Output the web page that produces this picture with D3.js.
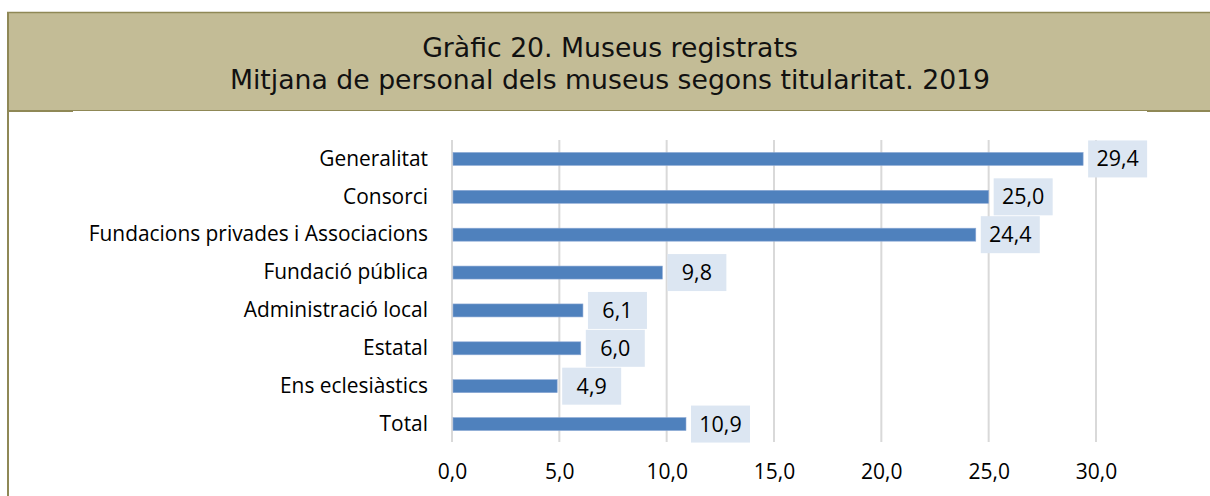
<!DOCTYPE html>
<html>
<head>
<meta charset="utf-8">
<script src="https://cdn.jsdelivr.net/npm/d3@7"></script>
<style>
  body { margin: 0; background: #fff; }
  svg { display: block; }
</style>
</head>
<body>
<div id="chart"></div>
<script>
// data
var categories = ["Generalitat", "Consorci", "Fundacions privades i Associacions", "Fundació pública",
    "Administració local", "Estatal", "Ens eclesiàstics", "Total"];
var values = [29.4, 25.0, 24.4, 9.8, 6.1, 6.0, 4.9, 10.9];
var xTicks = [0, 5, 10, 15, 20, 25, 30];
var titleLines = ["Gràfic 20. Museus registrats", "Mitjana de personal dels museus segons titularitat. 2019"];

var W = 1210, H = 496;
var fmt = function(v) { return d3.format(".1f")(v).replace(".", ","); };

var svg = d3.select("#chart").append("svg")
    .attr("width", W)
    .attr("height", H);

// header band
svg.append("rect")
    .attr("x", 8).attr("y", 12)
    .attr("width", W - 8).attr("height", 98)
    .attr("fill", "#c3bc96");
svg.append("line").attr("x1", 7).attr("x2", W).attr("y1", 12.5).attr("y2", 12.5)
    .attr("stroke", "#8f8856").attr("stroke-width", 1.5);
svg.append("line").attr("x1", 7).attr("x2", W).attr("y1", 110.5).attr("y2", 110.5)
    .attr("stroke", "#8f8856").attr("stroke-width", 1);
svg.append("line").attr("x1", 7).attr("x2", 73).attr("y1", 111).attr("y2", 111)
    .attr("stroke", "#8f8856").attr("stroke-width", 2);
svg.append("line").attr("x1", 1147).attr("x2", W).attr("y1", 111).attr("y2", 111)
    .attr("stroke", "#8f8856").attr("stroke-width", 2);
svg.append("line").attr("x1", 8).attr("x2", 8).attr("y1", 12).attr("y2", H)
    .attr("stroke", "#8f8856").attr("stroke-width", 2);

svg.selectAll(".title")
    .data(titleLines)
    .enter().append("text")
    .attr("class", "title")
    .attr("x", 610)
    .attr("y", function(d, i) { return 57 + i * 32; })
    .attr("text-anchor", "middle")
    .style("font-family", "'DejaVu Sans', Verdana, sans-serif")
    .style("font-size", "26.7px")
    .attr("fill", "#111")
    .text(function(d) { return d; });

// scales
var x = d3.scaleLinear()
    .domain([0, 30])
    .range([452, 1096]);

var y = d3.scaleBand()
    .domain(categories)
    .range([140, 443])
    .paddingInner(0.66)
    .paddingOuter(0.33);

var font = "'Open Sans', Lato, sans-serif";

// gridlines
svg.append("g")
    .selectAll("line")
    .data(xTicks)
    .enter().append("line")
    .attr("x1", function(d) { return x(d); })
    .attr("x2", function(d) { return x(d); })
    .attr("y1", 140)
    .attr("y2", 442)
    .attr("stroke", "#d9d9d9")
    .attr("stroke-width", 2);

// x axis labels
var xAxis = svg.append("g")
    .attr("transform", "translate(0,452)")
    .call(d3.axisBottom(x).tickValues(xTicks).tickSize(0).tickPadding(12).tickFormat(fmt));
xAxis.select(".domain").remove();
xAxis.selectAll("text")
    .style("font-family", font)
    .style("font-size", "21px")
    .attr("fill", "#000");

// y axis labels
var yAxis = svg.append("g")
    .attr("transform", "translate(452,0)")
    .call(d3.axisLeft(y).tickSize(0).tickPadding(24));
yAxis.select(".domain").remove();
yAxis.selectAll("text")
    .style("font-family", font)
    .style("font-size", "20.9px")
    .attr("fill", "#000");

var rows = categories.map(function(c, i) { return { cat: c, val: values[i] }; });

// bars
svg.append("g")
    .selectAll("rect")
    .data(rows)
    .enter().append("rect")
    .attr("x", x(0) + 1)
    .attr("y", function(d) { return y(d.cat) + y.bandwidth() / 2 - 6.5; })
    .attr("width", function(d) { return x(d.val) - x(0) - 1; })
    .attr("height", 13)
    .attr("fill", "#4f81bd")
    .attr("stroke", "#8eaad6")
    .attr("stroke-width", 0.6);

// value labels
var lab = svg.append("g")
    .selectAll("g")
    .data(rows)
    .enter().append("g")
    .attr("transform", function(d) {
        return "translate(" + (x(d.val) + 5) + "," + (y(d.cat) + y.bandwidth() / 2) + ")";
    });
lab.append("rect")
    .attr("x", 0)
    .attr("y", -18.5)
    .attr("width", 59)
    .attr("height", 37)
    .attr("fill", "#dce6f2");
lab.append("text")
    .attr("x", 29.5)
    .attr("y", 0)
    .attr("dy", "0.35em")
    .attr("text-anchor", "middle")
    .style("font-family", font)
    .style("font-size", "21.5px")
    .attr("fill", "#000")
    .text(function(d) { return fmt(d.val); });
</script>
</body>
</html>
